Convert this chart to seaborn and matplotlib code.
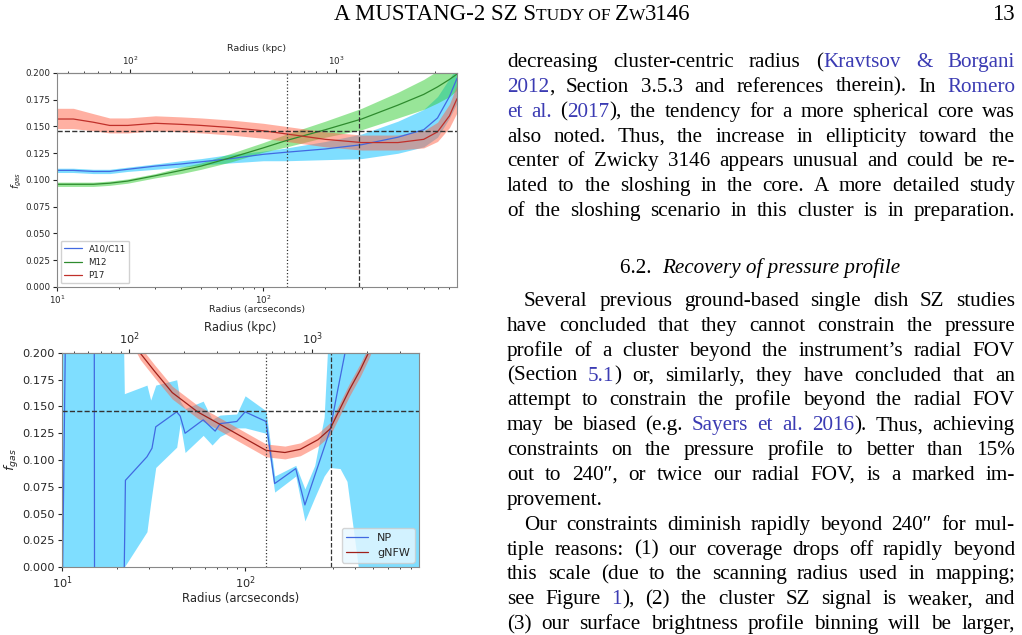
import re
import numpy as np
import matplotlib
matplotlib.use("Agg")
import matplotlib.pyplot as plt
import seaborn as sns

# ---------------- data: top panel (pressure-profile models) ----------------
r_top = [10, 12, 15, 18, 22, 30, 40, 50, 70, 100, 130, 200, 300, 450, 600, 700, 800, 870]
a10 = [0.109, 0.109, 0.108, 0.108, 0.110, 0.113, 0.115, 0.117, 0.120, 0.124, 0.126, 0.129, 0.133, 0.140, 0.147, 0.158, 0.178, 0.195]
a10_lo = [0.107, 0.107, 0.106, 0.106, 0.108, 0.110, 0.112, 0.114, 0.116, 0.118, 0.118, 0.119, 0.120, 0.125, 0.131, 0.140, 0.158, 0.172]
a10_hi = [0.111, 0.111, 0.110, 0.110, 0.112, 0.115, 0.118, 0.120, 0.124, 0.127, 0.130, 0.136, 0.143, 0.155, 0.166, 0.178, 0.195, 0.205]
m12 = [0.096, 0.096, 0.096, 0.097, 0.099, 0.104, 0.109, 0.113, 0.121, 0.130, 0.137, 0.147, 0.157, 0.170, 0.180, 0.187, 0.194, 0.199]
m12_lo = [0.094, 0.094, 0.094, 0.095, 0.097, 0.102, 0.106, 0.110, 0.117, 0.126, 0.131, 0.140, 0.147, 0.158, 0.166, 0.172, 0.178, 0.184]
m12_hi = [0.098, 0.098, 0.098, 0.099, 0.101, 0.106, 0.112, 0.116, 0.125, 0.135, 0.143, 0.155, 0.167, 0.182, 0.194, 0.202, 0.210, 0.215]
p17 = [0.157, 0.157, 0.154, 0.151, 0.151, 0.153, 0.152, 0.151, 0.149, 0.146, 0.143, 0.138, 0.135, 0.135, 0.138, 0.145, 0.160, 0.176]
p17_lo = [0.148, 0.148, 0.146, 0.144, 0.144, 0.146, 0.145, 0.144, 0.142, 0.139, 0.136, 0.131, 0.128, 0.128, 0.130, 0.136, 0.149, 0.163]
p17_hi = [0.167, 0.167, 0.162, 0.158, 0.158, 0.160, 0.159, 0.158, 0.156, 0.153, 0.150, 0.145, 0.142, 0.142, 0.146, 0.154, 0.171, 0.189]

# ---------------- data: bottom panel (non-parametric vs gNFW) ----------------
r_np = [10.0, 10.5, 15.0, 15.1, 21.8, 22.2, 29.1, 31.0, 32.5, 42.3, 44.2, 47.0, 59.0, 68.6, 73.0, 90.0, 100.0, 130.0,
        145.0, 189.0, 212.0, 291.0, 320.0, 351.0, 380.0]
np_f = [-0.05, 0.25, 0.25, -0.25, -0.02, 0.081, 0.103, 0.111, 0.131, 0.145, 0.141, 0.125, 0.1375, 0.127, 0.134, 0.136,
        0.145, 0.136, 0.078, 0.092, 0.058, 0.128, 0.165, 0.200, 0.240]
r_band = [10.0, 21.5, 21.9, 29.1, 30.5, 32.5, 42.3, 44.2, 47.0, 59.0, 66.0, 73.0, 90.0, 100.0, 130.0, 145.0, 189.0,
          212.0, 240.0, 270.0, 291.0, 330.0, 360.0, 415.0, 890.0]
np_hi = [0.25, 0.25, 0.162, 0.170, 0.156, 0.170, 0.175, 0.155, 0.148, 0.155, 0.138, 0.142, 0.143, 0.160, 0.146, 0.085,
         0.095, 0.073, 0.095, 0.140, 0.25, 0.25, 0.25, 0.25, 0.25]
np_lo = [-0.1, -0.1, 0.000, 0.033, 0.060, 0.093, 0.112, 0.134, 0.107, 0.123, 0.114, 0.122, 0.130, 0.130, 0.125, 0.070,
         0.085, 0.043, 0.065, 0.085, 0.093, 0.092, 0.080, 0.000, -0.1]
r_gnfw = [24, 26.7, 32, 40, 55, 70, 100, 130, 165, 200, 250, 291, 330, 372, 425, 471, 520]
gnfw = [0.215, 0.200, 0.183, 0.163, 0.145, 0.135, 0.120, 0.109, 0.107, 0.110, 0.119, 0.129, 0.148, 0.166, 0.184, 0.200, 0.218]
gnfw_err = 0.006

f_gas_univ = 0.146

# ---------------- text of the page ----------------
header_pieces = [("A MUSTANG-2 SZ S", 16.5), ("TUDY OF ", 12.5), ("Z", 16.5), ("W", 12.5), ("3146", 16.5)]
para1 = [
    "decreasing cluster-centric radius ({Kravtsov} {&} {Borgani}",
    "{2012}, Section 3.5.3 and references therein).  In {Romero}",
    "{et} {al.} ({2017}), the tendency for a more spherical core was",
    "also noted.  Thus, the increase in ellipticity toward the",
    "center of Zwicky 3146 appears unusual and could be re-",
    "lated to the sloshing in the core. A more detailed study",
    "of the sloshing scenario in this cluster is in preparation.",
]
para2 = [
    "Several previous ground-based single dish SZ studies",
    "have concluded that they cannot constrain the pressure",
    "profile of a cluster beyond the instrument\u2019s radial FOV",
    "(Section {5.1}) or, similarly, they have concluded that an",
    "attempt to constrain the profile beyond the radial FOV",
    "may be biased (e.g. {Sayers} {et} {al.} {2016}). Thus, achieving",
    "constraints on the pressure profile to better than 15%",
    "out to 240\u2033, or twice our radial FOV, is a marked im-",
    "provement.",
]
para3 = [
    "Our constraints diminish rapidly beyond 240\u2033 for mul-",
    "tiple reasons: (1) our coverage drops off rapidly beyond",
    "this scale (due to the scanning radius used in mapping;",
    "see Figure {1}), (2) the cluster SZ signal is weaker, and",
    "(3) our surface brightness profile binning will be larger,",
]

W, H = 1022, 635
fig = plt.figure(figsize=(W / 100, H / 100), dpi=100)
renderer = fig.canvas.get_renderer()
serif = "Liberation Serif"
link = "#3b3bb3"
BODY = 15.2


def put_pieces(x, y, pieces, size, style="normal"):
    # pieces: list of (text, color); x, y in pixels from top-left, baseline aligned
    for txt, col in pieces:
        t = fig.text(x / W, 1 - y / H, txt, fontsize=size, family=serif, color=col,
                     va="baseline", ha="left", style=style)
        x += t.get_window_extent(renderer).width
    return x


def word_pieces(word):
    out = []
    for p in re.split(r"(\{[^}]*\})", word):
        if not p:
            continue
        if p.startswith("{"):
            out.append((p[1:-1], link))
        else:
            out.append((p, "black"))
    return out


def measure(pieces, size, style="normal"):
    w = 0
    for txt, _ in pieces:
        t = fig.text(0, 0, txt, fontsize=size, family=serif, style=style)
        w += t.get_window_extent(renderer).width
        t.remove()
    return w


def draw_line(line, y, x0, x1, size=BODY, justify=True):
    words = [word_pieces(w) for w in line.split()]
    widths = [measure(w, size) for w in words]
    space = measure([("a a", "k")], size) - 2 * measure([("a", "k")], size)
    # shrink if the line would not fit with a minimal gap
    need = sum(widths) + 0.6 * space * (len(words) - 1)
    if need > x1 - x0:
        size *= (x1 - x0) / need
        widths = [measure(w, size) for w in words]
    if justify and len(words) > 1:
        gap = (x1 - x0 - sum(widths)) / (len(words) - 1)
    else:
        gap = space
    x = x0
    for w, wd in zip(words, widths):
        put_pieces(x, y, w, size)
        x += wd + gap


# header
hw = sum(measure([(t, "k")], s) for t, s in header_pieces)
hx = 512 - hw / 2
for t, s in header_pieces:
    fig.text(hx / W, 1 - 20 / H, t, fontsize=s, family=serif, va="baseline")
    hx += measure([(t, "k")], s)
fig.text(1015 / W, 1 - 20 / H, "13", fontsize=16.5, family=serif, va="baseline", ha="right")

X0, X1, step = 507, 1015, 24.85
for i, line in enumerate(para1):
    draw_line(line, 67 + i * step, X0, X1)
head_w = measure([("6.2.  ", "k")], BODY) + measure([("Recovery of pressure profile", "k")], BODY, "italic")
hx = put_pieces(760 - head_w / 2, 273, [("6.2.  ", "black")], BODY)
put_pieces(hx, 273, [("Recovery of pressure profile", "black")], BODY, style="italic")
y = 306
for par in (para2, para3):
    for i, line in enumerate(par):
        x0 = X0 + 17 if i == 0 else X0
        draw_line(line, y, x0, X1, justify=(line != "provement."))
        y += step

# ---------------- plots ----------------
sns.set_style("white")
plt.rcParams["font.family"] = ["DejaVu Sans"]


def style_axes(ax, k, xmax, fs, lab, kpad, apad, ylab):
    ax.set_xscale("log")
    ax.set_xlim(10, xmax)
    ax.set_ylim(0, 0.2)
    ax.set_yticks(np.arange(0, 0.201, 0.025))
    ax.yaxis.set_major_formatter(matplotlib.ticker.FormatStrFormatter("%.3f"))
    ax.tick_params(labelsize=fs, direction="out", length=3, which="major", left=True, bottom=True, pad=2)
    ax.tick_params(which="minor", length=1.5, bottom=True)
    for s in ax.spines.values():
        s.set_color("#888888")
    ax.set_xlabel("Radius (arcseconds)", fontsize=lab, labelpad=apad)
    ax.set_ylabel("$f_{gas}$", fontsize=ylab, labelpad=1)
    sec = ax.secondary_xaxis("top", functions=(lambda x: x * k, lambda x: x / k))
    sec.tick_params(labelsize=fs, length=3, pad=1)
    sec.tick_params(which="minor", length=1.5)
    sec.set_xlabel("Radius (kpc)", fontsize=lab, labelpad=kpad)
    sec.spines["top"].set_color("#888888")
    ax.axhline(f_gas_univ, color="#333333", ls="--", lw=1)


ax1 = fig.add_axes([57 / W, 1 - 287 / H, 400 / W, 214 / H])
ax1.fill_between(r_top, a10_lo, a10_hi, color="deepskyblue", alpha=0.5, lw=0)
ax1.fill_between(r_top, m12_lo, m12_hi, color="limegreen", alpha=0.5, lw=0)
ax1.fill_between(r_top, p17_lo, p17_hi, color="tomato", alpha=0.5, lw=0)
sns.lineplot(x=r_top, y=a10, ax=ax1, color="royalblue", lw=0.9, label="A10/C11")
sns.lineplot(x=r_top, y=m12, ax=ax1, color="#2e8b2e", lw=0.9, label="M12")
sns.lineplot(x=r_top, y=p17, ax=ax1, color="#c0302a", lw=0.9, label="P17")
style_axes(ax1, 4.42, 870, 6.3, 6.8, 3, -1, 7)
ax1.axvline(131, color="#333333", ls=":", lw=0.9)
ax1.axvline(292, color="#333333", ls="--", lw=0.9)
ax1.legend(loc="lower left", fontsize=6.3, framealpha=0.9, borderaxespad=0.4)

ax2 = fig.add_axes([62 / W, 1 - 567 / H, 357 / W, 214 / H])
ax2.fill_between(r_band, np_lo, np_hi, color="deepskyblue", alpha=0.5, lw=0)
ax2.fill_between(r_gnfw, np.array(gnfw) - gnfw_err, np.array(gnfw) + gnfw_err, color="tomato", alpha=0.5, lw=0)
sns.lineplot(x=r_np, y=np_f, ax=ax2, color="royalblue", lw=0.9, sort=False, label="NP")
sns.lineplot(x=r_gnfw, y=gnfw, ax=ax2, color="#a0201a", lw=0.9, label="gNFW")
style_axes(ax2, 4.3, 890, 8.2, 8.4, 0, 1, 9.5)
ax2.axvline(130, color="#333333", ls=":", lw=0.9)
ax2.axvline(295, color="#333333", ls="--", lw=0.9)
ax2.legend(loc="lower right", fontsize=8, framealpha=0.8, facecolor="#e8f8ff", borderaxespad=0.4)

fig.savefig("out.png", dpi=100)
